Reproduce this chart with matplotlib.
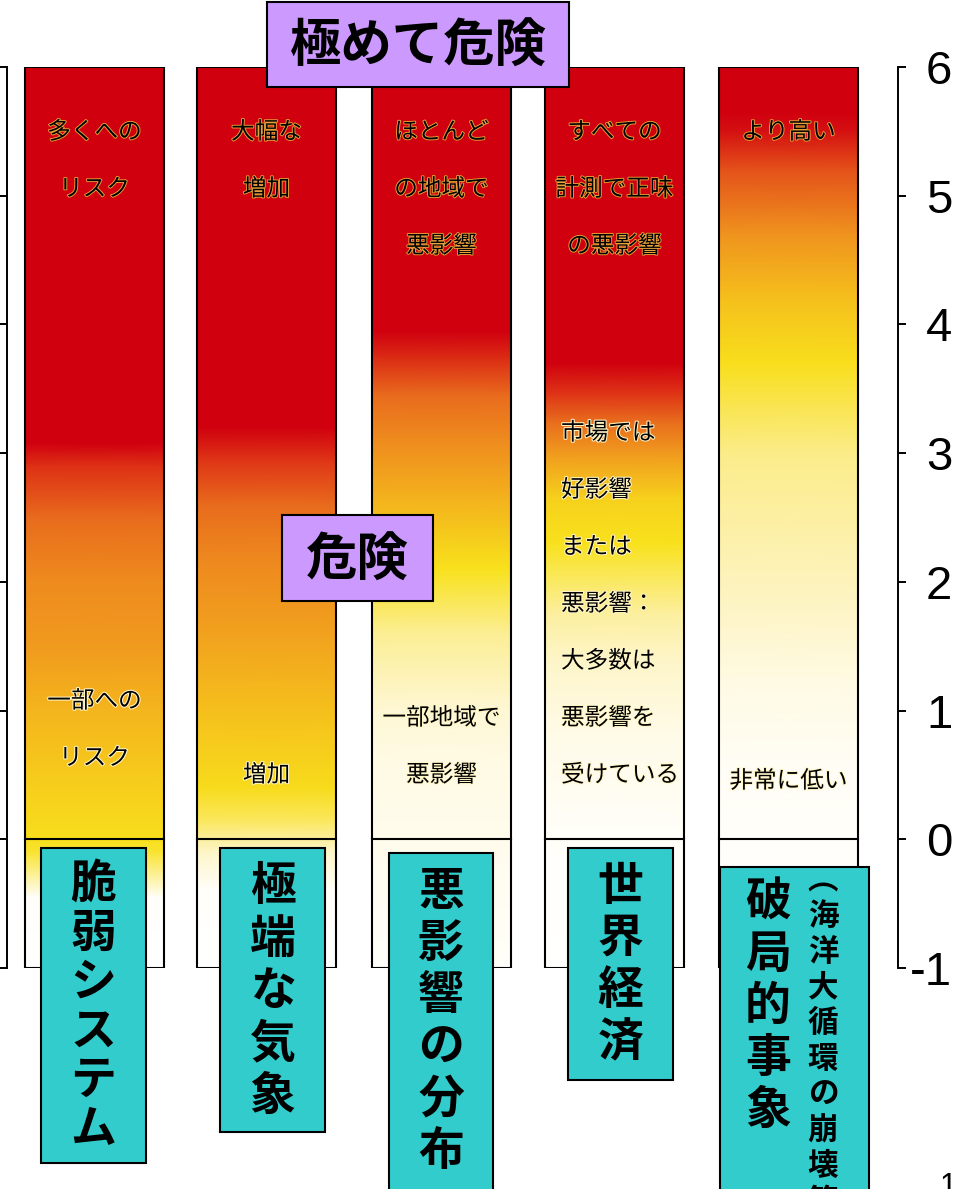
import numpy as np
import matplotlib
matplotlib.use("Agg")
import matplotlib.pyplot as plt
import matplotlib.patheffects as pe
from matplotlib.patches import Rectangle
from matplotlib.colors import LinearSegmentedColormap

plt.rcParams['font.family'] = ['Noto Sans CJK JP', 'DejaVu Sans']

# --- data -----------------------------------------------------------------
# temperature scale (right-hand axis)
temp_ticks = [-1, 0, 1, 2, 3, 4, 5, 6]
temp_labels = ['-1', '0', '1', '2', '3', '4', '5', '6']

# risk level (0 = none, 1 = very high) at temperature steps, one ember per column
temps_vulnerable = [-1.0, -0.45, -0.1, 0.0, 0.5, 1.0, 1.5, 2.0, 2.5, 2.9, 3.02, 3.08, 6.0]
risk_vulnerable = [0.0, 0.02, 0.38, 0.41, 0.47, 0.53, 0.6, 0.64, 0.72, 0.86, 0.95, 1.0, 1.0]

temps_extreme = [-1.0, -0.4, -0.1, 0.0, 0.15, 0.4, 1.0, 1.6, 2.2, 2.6, 2.95, 3.2, 6.0]
risk_extreme = [0.0, 0.02, 0.18, 0.26, 0.34, 0.42, 0.5, 0.58, 0.65, 0.72, 0.85, 1.0, 1.0]

temps_distribution = [-1.0, 0.0, 0.6, 1.0, 1.6, 2.1, 2.7, 3.1, 3.45, 3.75, 3.95, 6.0]
risk_distribution = [0.03, 0.08, 0.11, 0.15, 0.28, 0.4, 0.55, 0.64, 0.72, 0.88, 1.0, 1.0]

temps_economy = [-1.0, 0.0, 0.8, 1.4, 1.75, 2.3, 2.65, 3.0, 3.25, 3.45, 3.7, 6.0]
risk_economy = [0.01, 0.03, 0.1, 0.18, 0.26, 0.4, 0.45, 0.6, 0.72, 0.84, 1.0, 1.0]

temps_singular = [-1.0, 0.0, 0.6, 1.2, 1.9, 3.0, 3.7, 4.2, 4.7, 5.2, 5.5, 5.65, 6.0]
risk_singular = [0.01, 0.02, 0.05, 0.11, 0.2, 0.3, 0.41, 0.5, 0.62, 0.78, 0.95, 1.0, 1.0]

ember_temps = [temps_vulnerable, temps_extreme, temps_distribution, temps_economy, temps_singular]
ember_risk = [risk_vulnerable, risk_extreme, risk_distribution, risk_economy, risk_singular]

# notes printed inside each ember
top_notes = [["多くへの", "リスク"], ["大幅な", "増加"], ["ほとんど", "の地域で", "悪影響"],
             ["すべての", "計測で正味", "の悪影響"], ["より高い"]]
low_notes = [["一部への", "リスク"], ["増加"], ["一部地域で", "悪影響"], [], ["非常に低い"]]
market_note = ["市場では", "好影響", "または", "悪影響：", "大多数は", "悪影響を", "受けている"]

# category names under the embers
categories = ["脆弱システム", "極端な気象", "悪影響の分布", "世界経済", "破局的事象"]
singular_note = "︵海洋大循環の崩壊等"

# danger banners
banner_high = "極めて危険"
banner_mid = "危険"

# --- layout ---------------------------------------------------------------
W, H = 958, 1189
fig = plt.figure(figsize=(W / 100, H / 100), dpi=100)
fig.patch.set_facecolor('white')

# main chart: x in pixels, y in degrees
ax = fig.add_axes([7 / W, (H - 968) / H, (898 - 7) / W, (968 - 67) / H])
ax.set_xlim(7, 898)
ax.set_ylim(-1, 6)
ax.set_facecolor('none')
for side in ('top', 'bottom'):
    ax.spines[side].set_visible(False)
for side in ('left', 'right'):
    ax.spines[side].set_linewidth(1.4)
ax.set_xticks([])
ax.set_yticks(temp_ticks, labels=temp_labels, fontsize=34, family='Liberation Sans')
ax.tick_params(axis='y', left=True, right=True, labelleft=False, labelright=True,
               direction='out', length=6, width=1.4, pad=33)
for lbl in ax.get_yticklabels():
    lbl.set_horizontalalignment('right')

ember_cmap = LinearSegmentedColormap.from_list('ember', [
    (0.0, '#ffffff'), (0.1, '#fffbe8'), (0.2, '#fdf3c0'), (0.3, '#fbec88'),
    (0.4, '#f8e11c'), (0.5, '#f5c01c'), (0.6, '#f09a1e'), (0.7, '#ea741e'),
    (0.85, '#de3416'), (1.0, '#d0000f')])

col_left = [25, 197, 372, 545, 719]
col_w = 139

for left, temps, risk in zip(col_left, ember_temps, ember_risk):
    X, Y = np.meshgrid([left, left + col_w], temps)
    C = np.column_stack([risk, risk])
    ax.pcolormesh(X, Y, C, cmap=ember_cmap, vmin=0, vmax=1, shading='gouraud', zorder=1)
    ax.add_patch(Rectangle((left, -1), col_w, 7, fill=False, ec='black', lw=1.5, zorder=3))
    ax.plot([left, left + col_w], [0, 0], color='black', lw=1.5, zorder=3)

px_per_deg = (968 - 67) / 7


def px_to_deg(y):
    return (838 - y) / px_per_deg


hot_halo = [pe.withStroke(linewidth=1.3, foreground='#e9a23a')]
cool_halo = [pe.withStroke(linewidth=1.5, foreground='#fff6c8')]
line_step = 57 / px_per_deg
note_size = 17

# notes at the top of each ember
for left, lines in zip(col_left, top_notes):
    for i, txt in enumerate(lines):
        ax.text(left + col_w / 2, px_to_deg(131) - i * line_step, txt, ha='center', va='center',
                fontsize=note_size, color='black', path_effects=hot_halo, zorder=4)

# notes near the bottom of each ember
low_start = [700, 774, 717, 0, 780]
for left, y0, lines in zip(col_left, low_start, low_notes):
    for i, txt in enumerate(lines):
        ax.text(left + col_w / 2, px_to_deg(y0) - i * line_step, txt, ha='center', va='center',
                fontsize=note_size, color='black', path_effects=cool_halo, zorder=4)

for i, txt in enumerate(market_note):
    ax.text(561, px_to_deg(432) - i * line_step, txt, ha='left', va='center',
            fontsize=note_size, color='black', path_effects=cool_halo, zorder=4)

# --- overlay boxes (pixel coordinates) -----------------------------------
ov = fig.add_axes([0, 0, 1, 1], zorder=5)
ov.set_xlim(0, W)
ov.set_ylim(H, 0)
ov.axis('off')

purple = '#cc99ff'
teal = '#33cccc'

ov.add_patch(Rectangle((267, 2), 302, 85, fc=purple, ec='black', lw=1.5))
ov.text(418, 46, banner_high, ha='center', va='center', fontsize=37, fontweight='bold')
ov.add_patch(Rectangle((282, 515), 151, 86, fc=purple, ec='black', lw=1.5))
ov.text(357.5, 560, banner_mid, ha='center', va='center', fontsize=37, fontweight='bold')


def vertical_text(x, y0, step, txt, size):
    for k, ch in enumerate(txt):
        ov.text(x, y0 + k * step, ch, ha='center', va='center', fontsize=size, fontweight='bold')


boxes = [(41, 848, 105, 315), (220, 848, 105, 284), (389, 853, 104, 345),
         (568, 848, 105, 232), (720, 867, 149, 330)]
text_x = [93.5, 272.5, 441, 620.5, 768]
text_y0 = [885, 887, 892, 887, 903]
text_step = [49, 52.5, 52, 52, 52]

for (bx, by, bw, bh), tx, ty, st, name in zip(boxes, text_x, text_y0, text_step, categories):
    ov.add_patch(Rectangle((bx, by), bw, bh, fc=teal, ec='black', lw=1.5))
    vertical_text(tx, ty, st, name, 33)

vertical_text(823, 880, 35.8, singular_note, 22)

# page number
ov.text(948, 1172, "1", ha='center', va='top', fontsize=22, family='Liberation Sans')

fig.savefig("out.png", dpi=100)
